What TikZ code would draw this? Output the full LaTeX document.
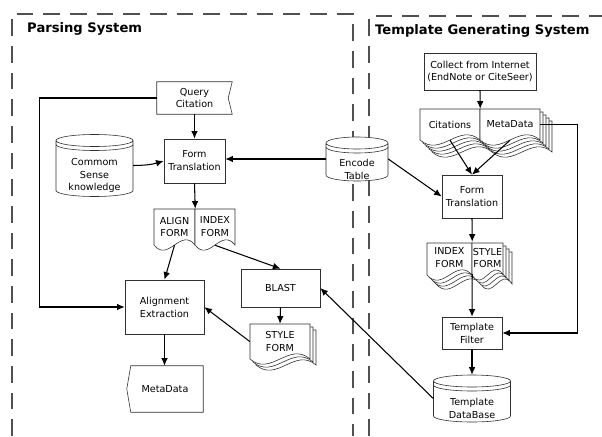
\documentclass[tikz,border=0pt]{standalone}
\usepackage{fontspec}
\setmainfont{DejaVu Sans}
\usetikzlibrary{arrows.meta}
\usepackage{xcolor}
\definecolor{frameGray}{HTML}{505050}
\definecolor{lineGray}{HTML}{303030}

% document page with wavy bottom: x, y (top left), width, height
\newcommand{\drawdoc}[4]{%
  \filldraw[fill=white, draw=lineGray, line width=0.5pt]
    (#1,#2) -- (#1+#3,#2) -- (#1+#3,#2+#4)
    .. controls (#1+0.65*#3,#2+#4-18) and (#1+0.35*#3,#2+#4+18) .. (#1,#2+#4) -- cycle;
}
% database drum: name, x, y (centre), width, height, text
\newcommand{\drawdb}[6]{%
  \node[dbbox, minimum width=#4*0.3mm, minimum height=#5*0.3mm] (#1) at (#2,#3) {};
  \filldraw[fill=white, draw=lineGray, line width=0.5pt]
    (#2-#4/2,#3-#5/2+6) -- (#2-#4/2,#3+#5/2-6)
    arc[start angle=180, end angle=360, x radius=#4*0.15mm, y radius=1.8mm]
    -- (#2+#4/2,#3-#5/2+6)
    arc[start angle=0, end angle=360, x radius=#4*0.15mm, y radius=1.8mm];
  \draw[lineGray, line width=0.5pt] (#2-#4/2,#3-#5/2+10)
    arc[start angle=180, end angle=360, x radius=#4*0.15mm, y radius=1.8mm];
  \node[dbtext] (#1-txt) at (#2,#3+10) {#6};
}

\begin{document}
\begin{tikzpicture}[
    x=0.3mm, y=-0.3mm,
    box/.style={
        draw=lineGray,
        line width=0.5pt,
        fill=white,
        align=center,
        inner sep=1pt,
        font={\fontsize{8.2}{11}\selectfont},
    },
    plain/.style={
        align=center,
        inner sep=0pt,
        font={\fontsize{8.2}{11}\selectfont},
    },
    doctext/.style={plain},
    dbbox/.style={inner sep=0pt},
    dbtext/.style={plain},
    title/.style={
        anchor=west,
        inner sep=0pt,
        font={\fontsize{11.2}{13}\selectfont\bfseries},
    },
    frame/.style={
        draw=frameGray,
        line width=1.8pt,
        dash pattern=on 5mm off 3mm,
    },
    arrow/.style={
        draw=black,
        line width=0.9pt,
        -{Latex[length=2.3mm,width=2mm]},
    },
]

\useasboundingbox (0,0) rectangle (602,436);

% system frames
\draw[frame] (12,436) -- (12,14) -- (353,14) -- (353,436);
\draw[frame] (369,436) -- (369,16) -- (602,16);

\node[title] (ptitle) at (27,29) {Parsing System};
\node[title] (ttitle) at (375,31) {Template Generating System};

% parsing system
\node[plain, minimum width=22.5mm, minimum height=9.6mm] (qcite) at (194.5,98) {Query\\Citation};
\draw[lineGray, line width=0.5pt] (qcite.north west) -- (qcite.north east)
    -- ([xshift=-1.2mm]qcite.east) -- (qcite.south east) -- (qcite.south west) -- cycle;

\drawdb{cs}{94.5}{165.5}{77}{62}{Commom\\Sense\\knowledge}
\node[box, minimum width=18.3mm, minimum height=13.2mm] (ftL) at (194.5,161) {Form\\Translation};

\drawdoc{154}{209}{41}{36}
\drawdoc{195}{209}{40}{36}
\node[doctext, minimum width=12.3mm, minimum height=10.8mm] (alg) at (174.5,227) {ALIGN\\FORM};
\node[doctext, minimum width=12mm, minimum height=10.8mm] (idxL) at (215,227) {INDEX\\FORM};

\node[box, minimum width=23.7mm, minimum height=11.4mm] (blast) at (280.5,288) {BLAST};

\foreach \k in {2,1} {\drawdoc{250+3*\k}{324+3*\k}{60}{35}}
\drawdoc{250}{324}{60}{35}
\node[doctext, minimum width=18mm, minimum height=10.5mm] (styL) at (280,341.5) {STYLE\\FORM};

\node[box, minimum width=23.7mm, minimum height=16.2mm] (aext) at (164.5,307) {Alignment\\Extraction};

\node[plain, minimum width=22.8mm, minimum height=13.8mm] (mdL) at (165,389) {MetaData};
\draw[lineGray, line width=0.5pt] ([xshift=1.2mm]mdL.north west) -- (mdL.north east)
    -- (mdL.south east) -- ([xshift=1.2mm]mdL.south west) -- (mdL.west) -- cycle;

\drawdb{enc}{357}{159}{62}{44}{Encode\\Table}

% template generating system
\node[box, minimum width=33.6mm, minimum height=11.1mm] (coll) at (480,71.5) {Collect from Internet\\(EndNote or CiteSeer)};

\foreach \k in {4,3,2,1} {\drawdoc{420+3*\k}{109+3*\k}{60}{31}}
\drawdoc{420}{109}{60}{31}
\foreach \k in {4,3,2,1} {\drawdoc{480+3*\k}{109+3*\k}{60}{31}}
\drawdoc{480}{109}{60}{31}
\node[doctext, minimum width=18mm, minimum height=9.3mm] (cit) at (450,124.5) {Citations};
\node[doctext, minimum width=18mm, minimum height=9.3mm] (meta) at (510,124.5) {MetaData};

\node[box, minimum width=18mm, minimum height=12.9mm] (ftR) at (472,196.5) {Form\\Translation};

\foreach \k in {3,2,1} {\drawdoc{427+3*\k}{243+3*\k}{45}{32}}
\drawdoc{427}{243}{45}{32}
\foreach \k in {3,2,1} {\drawdoc{472+3*\k}{243+3*\k}{31}{32}}
\drawdoc{472}{243}{31}{32}
\node[doctext, minimum width=13.5mm, minimum height=9.6mm] (idxR) at (449.5,258) {INDEX\\FORM};
\node[doctext, minimum width=9.3mm, minimum height=9.6mm] (styR) at (487.5,258) {STYLE\\FORM};

\node[box, minimum width=18mm, minimum height=9.6mm] (tfil) at (472,333) {Template\\Filter};

\drawdb{tdb}{472}{398.5}{77}{47}{Template\\DataBase}

% connectors
\draw[arrow] (qcite) -- (ftL);
\draw[arrow] (cs.east) to[bend right=8] (ftL.west);
\draw[arrow] (enc.west) -- (enc.west -| ftL.east);
\draw[arrow] (ftL.south) -- (alg.north east);
\draw[arrow] (alg.south) -- (aext.north);
\draw[arrow] (idxL.south) -- (blast.north);
\draw[arrow] (blast.south) -- (styL.north);
\draw[arrow] (styL.west) -- (aext.east);
\draw[arrow] (aext.south) -- (aext.south |- mdL.north);
\draw[arrow] (qcite.west) -- ++(-117,0) |- (aext.west);

\draw[arrow] (coll.south) -- (cit.north east);
\draw[arrow] (cit.south) -- (ftR.north);
\draw[arrow] (meta.south) -- (ftR.north);
\draw[arrow] (enc.east) -- (ftR.west);
\draw[arrow] (meta.east) -- ++(37,0) |- (tfil.east);
\draw[arrow] (ftR.south) -- (idxR.north east);
\draw[arrow] (idxR.south east) -- (tfil.north);
\draw[arrow] (tfil) -- (tdb);
\draw[arrow] (tdb.west) -- (blast.east);

\end{tikzpicture}
\end{document}
